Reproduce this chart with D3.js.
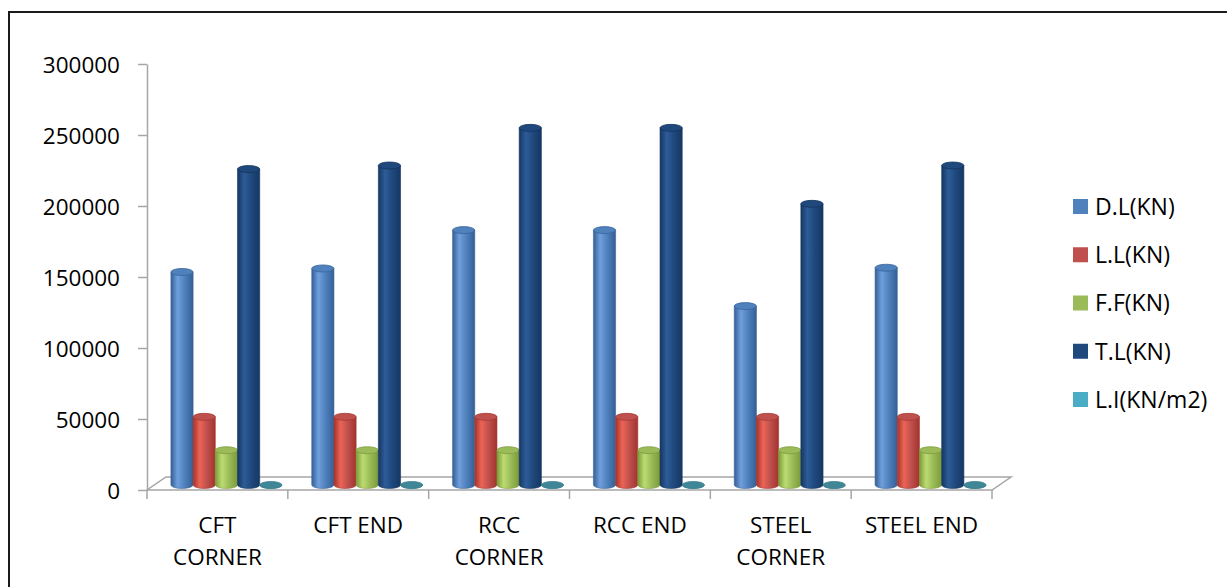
<!DOCTYPE html>
<html>
<head>
<meta charset="utf-8">
<script src="https://cdn.jsdelivr.net/npm/d3@7"></script>
<style>
  html, body { margin: 0; padding: 0; background: #fff; }
  svg { display: block; }
  text { font-family: "Open Sans", "DejaVu Sans", sans-serif; fill: #000; }
</style>
</head>
<body>
<svg id="chart" width="1227" height="587"></svg>
<script>
// Load summary per column type and position
const categories = [["CFT", "CORNER"], ["CFT END"], ["RCC", "CORNER"], ["RCC END"], ["STEEL", "CORNER"], ["STEEL END"]];
const seriesNames = ["D.L(KN)", "L.L(KN)", "F.F(KN)", "T.L(KN)", "L.I(KN/m2)"];
const deadLoad  = [150000, 152500, 179500, 179500, 126000, 153000];
const liveLoad  = [48000, 48000, 48000, 48000, 48000, 48000];
const floorFin  = [24500, 24500, 24500, 24500, 24500, 24500];
const totalLoad = [222500, 225000, 251500, 251500, 198000, 225000];
const loadInt   = [6, 6, 7, 7, 5, 6];
const yTicks = [0, 50000, 100000, 150000, 200000, 250000, 300000];

const seriesValues = [deadLoad, liveLoad, floorFin, totalLoad, loadInt];
const palette = [
  { base: "#4F81BD", dark: "#355f96", light: "#6f9fdc", edge: "#3a6499" },
  { base: "#C0504D", dark: "#a3332c", light: "#ec6455", edge: "#a33b36" },
  { base: "#9BBB59", dark: "#7b9b39", light: "#bcdc72", edge: "#7f9c40" },
  { base: "#1F497D", dark: "#163763", light: "#2d5c97", edge: "#14345c" },
  { base: "#4BACC6", dark: "#3f8797", light: "#5aa5b6", edge: "#3d7f8f" }
];

const svg = d3.select("#chart");

// outer frame
svg.append("rect")
  .attr("x", 9).attr("y", 12)
  .attr("width", 1240).attr("height", 600)
  .attr("fill", "none").attr("stroke", "#1a1a1a").attr("stroke-width", 2);

const y = d3.scaleLinear().domain([0, 300000]).range([490, 64]);
const x0 = d3.scaleBand().domain(d3.range(categories.length)).range([147, 992]).padding(0);
const depthDx = 19, depthDy = -13;   // back edge of the floor
const barDx = 9, barDy = -5;         // bars stand at mid depth
const groupW = 111;
const x1 = d3.scaleBand().domain(d3.range(seriesNames.length))
  .range([(x0.bandwidth() - groupW) / 2, (x0.bandwidth() + groupW) / 2]).padding(0);

// gradients for cylinder shading
const defs = svg.append("defs");
palette.forEach((c, i) => {
  const g = defs.append("linearGradient").attr("id", "cyl" + i)
    .attr("x1", "0%").attr("x2", "100%").attr("y1", "0%").attr("y2", "0%");
  g.append("stop").attr("offset", "0%").attr("stop-color", c.dark);
  g.append("stop").attr("offset", "30%").attr("stop-color", c.light);
  g.append("stop").attr("offset", "62%").attr("stop-color", c.base);
  g.append("stop").attr("offset", "100%").attr("stop-color", c.dark);
});

// floor
const [fx0, fx1] = x0.range();
const fy = y(0);
svg.append("path")
  .attr("d", `M${fx0},${fy} L${fx1},${fy} L${fx1 + depthDx},${fy + depthDy} L${fx0 + depthDx},${fy + depthDy} Z`)
  .attr("fill", "#fff").attr("stroke", "#a6a6a6").attr("stroke-width", 1.5);

// value axis
const yAxis = svg.append("g").attr("transform", `translate(${fx0},0)`)
  .call(d3.axisLeft(y).tickValues(yTicks).tickSize(9).tickSizeOuter(0).tickPadding(0).tickFormat(d3.format("d")));
yAxis.select(".domain").attr("stroke", "#a6a6a6").attr("stroke-width", 1.5);
yAxis.selectAll(".tick line").attr("stroke", "#a6a6a6").attr("stroke-width", 1.5);
yAxis.selectAll(".tick text")
  .attr("x", -27).attr("dy", "0.36em")
  .style("font-family", "'Open Sans', sans-serif").style("font-size", "22.5px").attr("fill", "#000");

// category axis ticks and labels
const catTicks = d3.range(categories.length + 1).map(i => i < categories.length ? x0(i) : fx1);
svg.append("g").selectAll("line").data(catTicks).join("line")
  .attr("x1", d => d).attr("x2", d => d)
  .attr("y1", fy).attr("y2", fy + 9)
  .attr("stroke", "#a6a6a6").attr("stroke-width", 1.5);

const catLabels = svg.append("g").selectAll("text").data(categories).join("text")
  .attr("x", (d, i) => x0(i) + x0.bandwidth() / 2)
  .attr("y", 533)
  .attr("text-anchor", "middle")
  .style("font-size", "22.5px");
catLabels.selectAll("tspan").data(d => d).join("tspan")
  .attr("x", function () { return d3.select(this.parentNode).attr("x"); })
  .attr("dy", (d, i) => i === 0 ? 0 : 32)
  .text(d => d);

// cylinders
const ry = 3.5;
const bars = svg.append("g");
categories.forEach((cat, ci) => {
  seriesValues.forEach((vals, si) => {
    const w = x1.bandwidth();
    const left = x0(ci) + x1(si) + barDx;
    const rx = w / 2;
    const base = y(0) + barDy;
    const top = y(vals[ci]) + barDy;
    const c = palette[si];
    const g = bars.append("g");
    g.append("path")
      .attr("d", `M${left},${top} L${left},${base} A${rx},${ry} 0 0 0 ${left + w},${base} L${left + w},${top} Z`)
      .attr("fill", `url(#cyl${si})`)
      .attr("stroke", c.edge).attr("stroke-width", 0.6);
    g.append("ellipse")
      .attr("cx", left + rx).attr("cy", top)
      .attr("rx", rx).attr("ry", ry)
      .attr("fill", si === 4 ? c.dark : c.base).attr("stroke", c.edge).attr("stroke-width", 0.8);
  });
});

// legend
const legend = svg.append("g").selectAll("g").data(seriesNames).join("g")
  .attr("transform", (d, i) => `translate(1073,${206.5 + i * 48.25})`);
legend.append("rect")
  .attr("x", 0).attr("y", -7.5).attr("width", 15).attr("height", 15)
  .attr("fill", (d, i) => palette[i].base);
legend.append("text")
  .attr("x", 22).attr("y", 0).attr("dy", "0.36em")
  .style("font-size", "23px")
  .text(d => d);
</script>
</body>
</html>
